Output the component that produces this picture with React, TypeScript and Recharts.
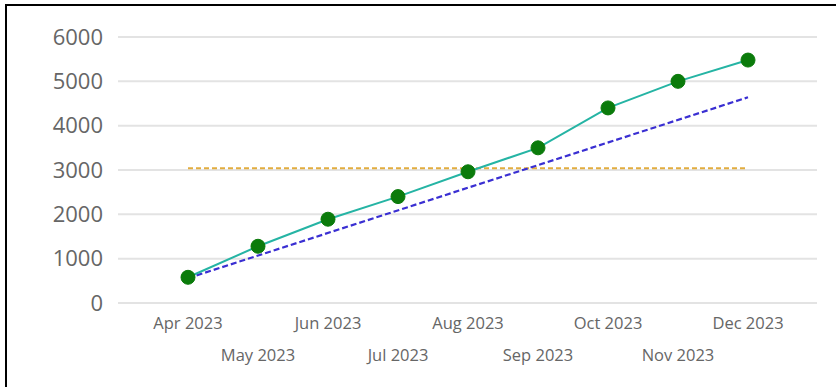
import {CartesianGrid, Line, LineChart, XAxis, YAxis} from 'recharts';

const MONTHS = ['Apr 2023', 'May 2023', 'Jun 2023', 'Jul 2023', 'Aug 2023', 'Sep 2023', 'Oct 2023', 'Nov 2023', 'Dec 2023'];
const ACTUAL = [580, 1280, 1890, 2400, 2960, 3500, 4400, 5000, 5480];
const TREND = [560, null, null, null, null, null, null, null, 4640];
const AVERAGE = [3040, 3040, 3040, 3040, 3040, 3040, 3040, 3040, 3040];
const Y_TICKS = [0, 1000, 2000, 3000, 4000, 5000, 6000];

const FONT = '"Open Sans", "Noto Sans", sans-serif';

const chartData = MONTHS.map((month, i) => ({
    month,
    actual: ACTUAL[i],
    trend: TREND[i],
    average: AVERAGE[i],
}));

function MonthTick({x, y, payload, index}: any) {
    const offset = index % 2 === 0 ? 18 : 50;
    return (
        <text x={x} y={y + offset} textAnchor="middle" fill="#666" fontSize={16.5} fontFamily={FONT}>
            {payload.value}
        </text>
    );
}

export default function App() {
    return (
        <div style={{position: 'absolute', left: 0, top: 0, width: 836, height: 387, background: '#fff'}}>
            <div style={{position: 'absolute', left: 5, top: 4, width: 831, height: 383, borderTop: '2px solid #000', borderLeft: '2px solid #000', boxSizing: 'border-box'}}/>
            <div style={{position: 'absolute', left: 0, top: 0}}>
                <LineChart width={836} height={387} data={chartData} margin={{top: 37, right: 19, left: 18, bottom: 14}}>
                    <CartesianGrid vertical={false} stroke="#e3e3e3" strokeWidth={2}/>
                    <XAxis dataKey="month" height={70} axisLine={false} tickLine={false} interval={0}
                           padding={{left: 70, right: 69}} tick={<MonthTick/>}/>
                    <YAxis width={100} domain={[0, 6000]} ticks={Y_TICKS} axisLine={false} tickLine={false}
                           tickMargin={9} tick={{fill: '#666', fontSize: 22, fontFamily: FONT}}/>
                    <Line dataKey="average" stroke="#e2ad3f" strokeWidth={2} strokeDasharray="5 3" dot={false}
                          isAnimationActive={false}/>
                    <Line dataKey="trend" stroke="#3a2fd2" strokeWidth={2.2} strokeDasharray="6 3" dot={false}
                          connectNulls isAnimationActive={false}/>
                    <Line dataKey="actual" stroke="#25b4a4" strokeWidth={2}
                          dot={{r: 7, fill: '#0b7b0b', stroke: '#0b7b0b', strokeWidth: 1}}
                          isAnimationActive={false}/>
                </LineChart>
            </div>
        </div>
    );
}
